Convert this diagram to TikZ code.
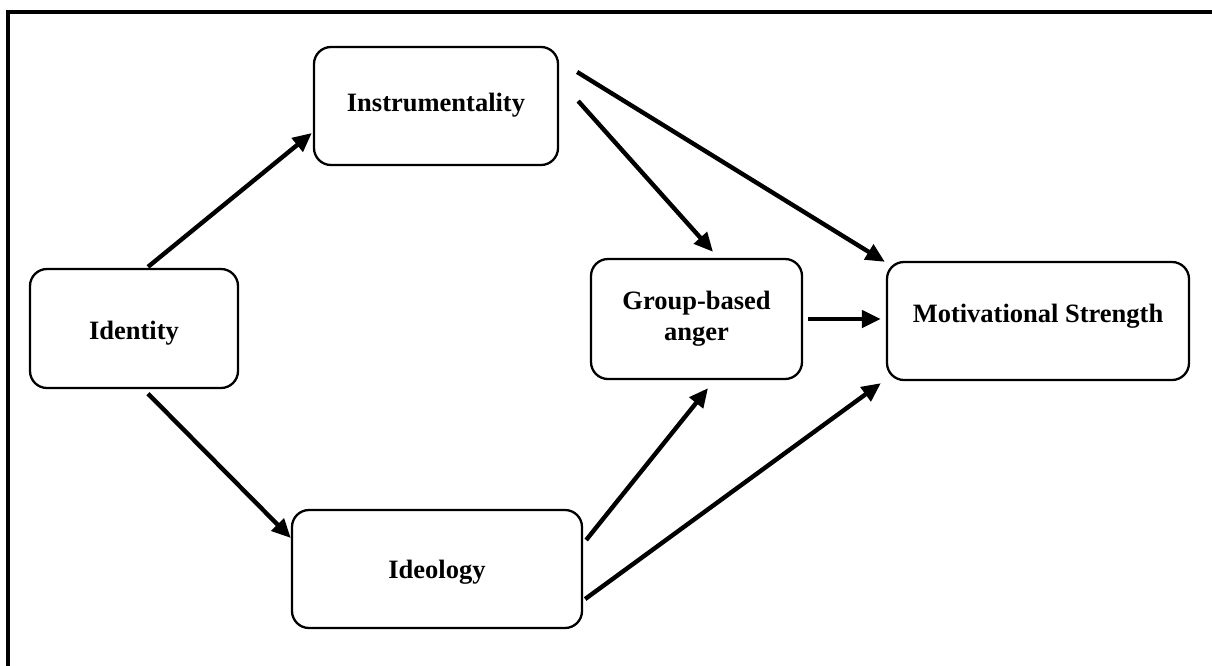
\documentclass[tikz,border=0pt]{standalone}
\usepackage{fontspec}
\setmainfont{Liberation Serif}
\usetikzlibrary{arrows.meta}
\begin{document}
\begin{tikzpicture}[x=1pt,y=-1pt,
  box/.style={draw, line width=2.3pt, rounded corners=17pt, align=center,
    font=\fontsize{26.5}{31}\selectfont\bfseries, inner sep=0pt},
  conn/.style={line width=4.4pt, -{Triangle[length=19pt,width=17pt]}}]
\useasboundingbox (0,0) rectangle (1212,665);
\begin{scope}
\clip (0,0) rectangle (1212,665);
\draw[line width=4.5pt] (8,12) rectangle (1260,720);
\end{scope}
\node[box, minimum width=244pt, minimum height=118pt, text height=18pt, text depth=8pt] (ins) at (436,106) {Instrumentality};
\node[box, minimum width=208pt, minimum height=119pt, text height=21pt, text depth=0pt] (id) at (134,328.5) {Identity};
\node[box, minimum width=211pt, minimum height=120pt] (ang) at (696.5,319) {Group-based\\anger};
\node[box, minimum width=290pt, minimum height=118pt, text height=18.5pt, text depth=0.5pt] (ideo) at (437,569) {Ideology};
\node[box, minimum width=302pt, minimum height=118pt, text height=18pt, text depth=16pt] (mot) at (1038,321) {Motivational Strength};
\draw[conn] ([xshift=14pt,yshift=1pt]id.north) -- ([xshift=-1pt,yshift=-27pt]ins.west);
\draw[conn] ([xshift=14pt,yshift=-4.5pt]id.south) -- ([yshift=31pt]ideo.west);
\draw[conn] ([xshift=19pt,yshift=5pt]ins.east) -- ([xshift=16.5pt,yshift=6pt]ang.north);
\draw[conn] ([xshift=18pt,yshift=34pt]ins.east) -- ([xshift=-1pt,yshift=-1pt]mot.north west);
\draw[conn] ([xshift=5pt]ang.east) -- ([xshift=-5pt,yshift=2pt]mot.west);
\draw[conn] ([xshift=3pt,yshift=29pt]ideo.east) -- ([xshift=11.5pt,yshift=-8pt]ang.south);
\draw[conn] ([xshift=2pt,yshift=-30pt]ideo.east) -- ([xshift=-5pt,yshift=-2pt]mot.south west);
\end{tikzpicture}
\end{document}
